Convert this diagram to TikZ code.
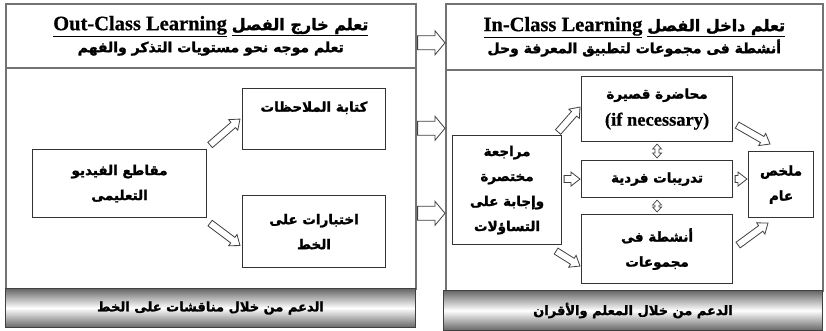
\documentclass[tikz,border=0pt]{standalone}
\usepackage{fontspec}
\usetikzlibrary{calc}
\TeXXeTstate=1
\setmainfont{Liberation Serif}
\newfontfamily\arabicfont[Script=Arabic, BoldFeatures={FakeBold=1.6}]{DejaVu Sans}
\newfontfamily\engfont[BoldFeatures={FakeBold=0.6}]{Liberation Serif}
\newcommand\ArT[1]{\beginR #1\endR}
\def\rsbw{3.5pt}\def\rsbW{7pt}\def\rsbh{9pt}
\tikzset{
  panel/.style={draw=black!55, line width=1.6pt, fill=white, inner sep=0pt, anchor=north west, align=center},
  hdr/.style={panel, font=\arabicfont\bfseries\fontsize{14}{22}\selectfont},
  box/.style={draw=black!80, line width=1.1pt, fill=white, inner sep=0pt, anchor=north west, align=center,
              font=\arabicfont\bfseries\fontsize{13.5}{25}\selectfont},
  bar/.style={draw=black!75, line width=1pt, top color=black!60, bottom color=black!60, middle color=white,
              inner sep=0pt, anchor=north west, font=\arabicfont\bfseries\fontsize{13}{14}\selectfont},
  asmall/.style={/utils/exec={\def\rsbw{3.5pt}\def\rsbW{7pt}\def\rsbh{9pt}}},
  abig/.style={/utils/exec={\def\rsbw{7pt}\def\rsbW{12pt}\def\rsbh{10pt}}},
  atiny/.style={/utils/exec={\def\rsbw{2pt}\def\rsbW{4.5pt}\def\rsbh{5pt}}},
  barrow/.style={draw=black!75, fill=white, line width=0.8pt, to path={
    (\tikztostart) coordinate (ba1) (\tikztotarget) coordinate (ba2)
    ($(ba2)!\rsbh!(ba1)$) coordinate (ba3)
    ($(ba1)!\rsbw!90:(ba2)$) -- ($(ba3)!\rsbw!90:(ba2)$) -- ($(ba3)!\rsbW!90:(ba2)$) -- (ba2)
    -- ($(ba3)!\rsbW!-90:(ba2)$) -- ($(ba3)!\rsbw!-90:(ba2)$) -- ($(ba1)!\rsbw!-90:(ba2)$) -- cycle}},
  bdarrow/.style={draw=black!75, fill=white, line width=0.7pt, to path={
    (\tikztostart) coordinate (ba1) (\tikztotarget) coordinate (ba2)
    ($(ba2)!\rsbh!(ba1)$) coordinate (ba3) ($(ba1)!\rsbh!(ba2)$) coordinate (ba4)
    (ba1) -- ($(ba4)!\rsbW!90:(ba2)$) -- ($(ba4)!\rsbw!90:(ba2)$) -- ($(ba3)!\rsbw!90:(ba2)$)
    -- ($(ba3)!\rsbW!90:(ba2)$) -- (ba2) -- ($(ba3)!\rsbW!-90:(ba2)$) -- ($(ba3)!\rsbw!-90:(ba2)$)
    -- ($(ba4)!\rsbw!-90:(ba2)$) -- ($(ba4)!\rsbW!-90:(ba2)$) -- cycle}}
}
\begin{document}
\begin{tikzpicture}[x=1pt, y=-1pt]
\useasboundingbox (0,0) rectangle (826,331);
\fill[white] (0,0) rectangle (826,331);
% left panel
\node[hdr, minimum width=410pt, minimum height=64pt] (lhead) at (5,3)
  {{\engfont\bfseries\fontsize{20.5}{22}\selectfont\underline{Out-Class Learning}}\ \underline{\hbox{\fontsize{16}{22}\selectfont\ArT{تعلم خارج الفصل}}}\\ \ArT{تعلم موجه نحو مستويات التذكر والفهم}};
\node[panel, minimum width=410pt, minimum height=221pt] (lbody) at (5,67) {};
\node[bar, minimum width=410pt, minimum height=39pt] (lbar) at (5,288) {\ArT{الدعم من خلال مناقشات على الخط}};
% right panel
\node[hdr, minimum width=377pt, minimum height=66pt] (rhead) at (445,3)
  {{\engfont\bfseries\fontsize{20.5}{22}\selectfont\underline{In-Class Learning}}\ \underline{\hbox{\fontsize{16}{22}\selectfont\ArT{تعلم داخل الفصل}}}\\ \ArT{أنشطة فى مجموعات لتطبيق المعرفة وحل}};
\node[panel, minimum width=377pt, minimum height=221pt] (rbody) at (445,69) {};
\node[bar, minimum width=379pt, minimum height=40pt] (rbar) at (443,290) {\ArT{الدعم من خلال المعلم والأقران}};
% left nodes
\node[box, minimum width=174pt, minimum height=68pt] (vid) at (32,149) {\ArT{مقاطع الفيديو}\\\ArT{التعليمى}};
\node[box, minimum width=143pt, minimum height=61pt] (notes) at (242,88) {\ArT{كتابة الملاحظات}\\[0pt]\mbox{}};
\node[box, minimum width=143pt, minimum height=72pt] (tests) at (242,195) {\ArT{اختبارات على}\\\ArT{الخط}};
% right nodes
\node[box, minimum width=109pt, minimum height=109pt] (rev) at (452,135) {\ArT{مراجعة}\\\ArT{مختصرة}\\\ArT{وإجابة على}\\\ArT{التساؤلات}};
\node[box, minimum width=151pt, minimum height=65pt] (lec) at (581,76) {\ArT{محاضرة قصيرة}\\[2pt]{\engfont\bfseries\fontsize{18.5}{25}\selectfont (if necessary)}};
\node[box, minimum width=151pt, minimum height=37pt] (ex) at (581,160) {\ArT{تدريبات فردية}};
\node[box, minimum width=151pt, minimum height=69pt] (grp) at (581,214) {\ArT{أنشطة فى}\\\ArT{مجموعات}};
\node[box, minimum width=65pt, minimum height=66pt] (sum) at (748,151) {\ArT{ملخص}\\\ArT{عام}};
% panel arrows
\draw[barrow, abig] ($(lhead.east)+(1,7)$) to ($(lhead.east -| rhead.west)+(0,7)$);
\draw[barrow, abig] ($(lbody.east)+(1,-50)$) to ($(lbody.east -| rbody.west)+(0,-50)$);
\draw[barrow, abig] ($(lbody.east)+(1,35)$) to ($(lbody.east -| rbody.west)+(0,35)$);
% left arrows
\draw[barrow, asmall] ($(vid.north east)+(3,-4)$) to ($(notes.west)+(-2,0)$);
\draw[barrow, asmall] ($(vid.south east)+(3,5)$) to ($(tests.west)+(-2,14)$);
% right arrows
\draw[barrow, asmall] ($(rev.north east)+(-4,-3)$) to ($(lec.west)+(-1,-2)$);
\draw[barrow, asmall] ($(rev.east |- ex.west)+(2,0)$) to ($(ex.west)+(-1,0)$);
\draw[barrow, asmall] ($(rev.south east)+(-6,6)$) to ($(grp.west)+(-1,17)$);
\draw[barrow, asmall] ($(lec.south east)+(4,-17)$) to ($(sum.north west)+(22,-7)$);
\draw[barrow, asmall] ($(ex.east)+(2,0)$) to ($(sum.west |- ex.east)+(-1,0)$);
\draw[barrow, asmall] ($(grp.east)+(5,-4)$) to ($(sum.south west)+(20,5)$);
\draw[bdarrow, atiny] ($(lec.south)+(0,2)$) to ($(ex.north)+(0,-2)$);
\draw[bdarrow, atiny] ($(ex.south)+(0,2)$) to ($(grp.north)+(0,-2)$);
\end{tikzpicture}
\end{document}
